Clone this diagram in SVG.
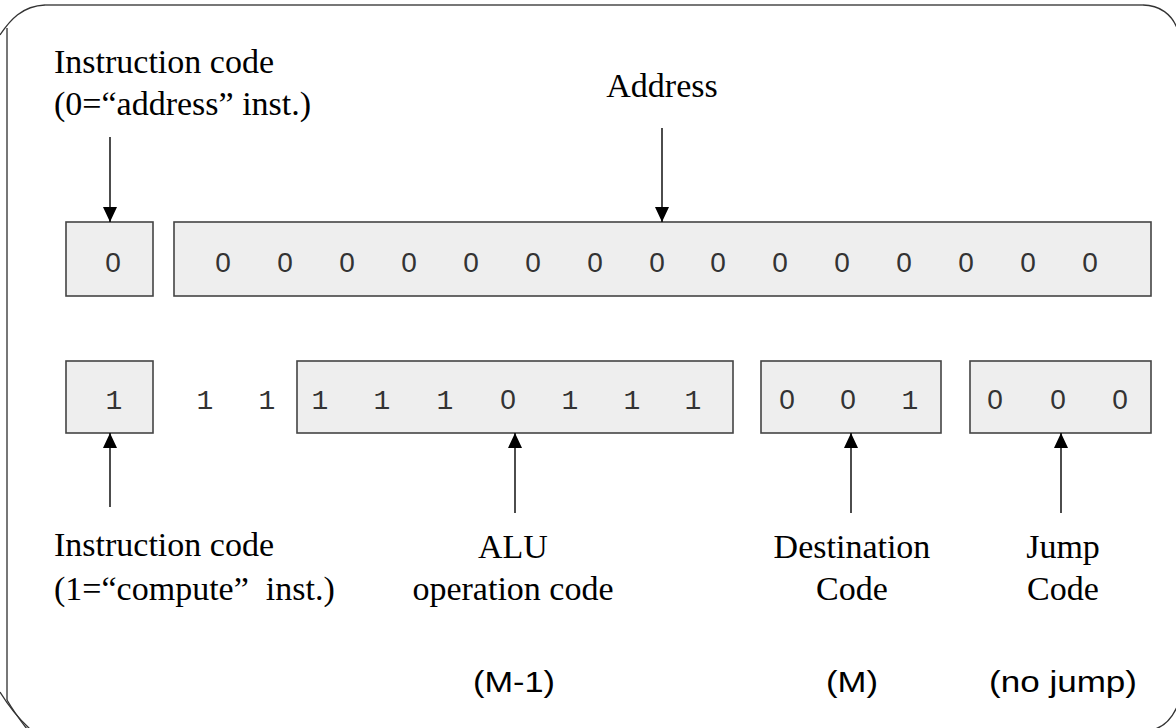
<svg xmlns="http://www.w3.org/2000/svg" width="1176" height="728" viewBox="0 0 1176 728">
<defs>
<marker id="ah" markerUnits="userSpaceOnUse" markerWidth="16" markerHeight="16" viewBox="0 0 16 16" refX="15" refY="8" orient="auto">
<path d="M0,1 L15,8 L0,15 Z" fill="#000"/>
</marker>
<style>
.frame{fill:none;stroke:#333;stroke-width:1.3}
.edge{fill:none;stroke:#777;stroke-width:2}
.box{fill:#eeeeee;stroke:#444;stroke-width:1.6}
.dig{font-family:"Liberation Sans",Arial,sans-serif;font-size:28px;fill:#333;text-anchor:middle}
.one{font-family:"Liberation Mono","Courier New",monospace;font-size:28px;fill:#333;text-anchor:middle}
.lbl{font-family:"Liberation Serif",serif;font-size:34px;fill:#000}
.mid{text-anchor:middle}
.sans{font-family:"Liberation Sans",Arial,sans-serif;font-size:30px;fill:#000;text-anchor:middle}
.arr{stroke:#000;stroke-width:1.4;fill:none;marker-end:url(#ah)}
</style>
</defs>
<g id="frame">
<path class="frame" d="M0,35 C10,20 22,6 45,5"/>
<path class="edge" d="M45,5 H1143"/>
<path class="frame" d="M1143,5 C1160,5 1172,15 1177,28"/>
<path class="edge" d="M7,28 V700"/>
<path class="frame" d="M0,692 C8,705 18,718 30,729"/>
<path class="frame" d="M7,700 C14,712 20,720 27,729"/>
<path class="frame" d="M1177,707 C1172,718 1165,726 1155,729"/>
</g>
<g id="lbl-instr-a">
<text class="lbl" x="54" y="73">Instruction code</text>
<text class="lbl" x="54" y="115">(0=“address” inst.)</text>
</g>
<g id="lbl-address">
<text class="lbl mid" x="662" y="97">Address</text>
</g>
<g id="box-a0">
<rect class="box" x="66" y="222" width="87" height="74"/>
<text class="dig" x="113" y="272">0</text>
</g>
<g id="box-address">
<rect class="box" x="174" y="222" width="977" height="74"/>
<text class="dig" x="223" y="272">0</text>
<text class="dig" x="285" y="272">0</text>
<text class="dig" x="347" y="272">0</text>
<text class="dig" x="409" y="272">0</text>
<text class="dig" x="471" y="272">0</text>
<text class="dig" x="533" y="272">0</text>
<text class="dig" x="595" y="272">0</text>
<text class="dig" x="657" y="272">0</text>
<text class="dig" x="718" y="272">0</text>
<text class="dig" x="780" y="272">0</text>
<text class="dig" x="842" y="272">0</text>
<text class="dig" x="904" y="272">0</text>
<text class="dig" x="966" y="272">0</text>
<text class="dig" x="1028" y="272">0</text>
<text class="dig" x="1090" y="272">0</text>
</g>
<g id="box-c1">
<rect class="box" x="66" y="361" width="87" height="72"/>
<text class="one" x="114" y="409">1</text>
</g>
<g id="free-bits">
<text class="one" x="205" y="409">1</text>
<text class="one" x="267" y="409">1</text>
</g>
<g id="box-alu">
<rect class="box" x="297" y="361" width="436" height="72"/>
<text class="one" x="320" y="409">1</text>
<text class="one" x="382" y="409">1</text>
<text class="one" x="445" y="409">1</text>
<text class="dig" x="508" y="409">0</text>
<text class="one" x="570" y="409">1</text>
<text class="one" x="632" y="409">1</text>
<text class="one" x="693" y="409">1</text>
</g>
<g id="box-dest">
<rect class="box" x="761" y="361" width="180" height="72"/>
<text class="dig" x="787" y="409">0</text>
<text class="dig" x="848" y="409">0</text>
<text class="one" x="910" y="409">1</text>
</g>
<g id="box-jump">
<rect class="box" x="970" y="361" width="181" height="72"/>
<text class="dig" x="995" y="409">0</text>
<text class="dig" x="1058" y="409">0</text>
<text class="dig" x="1120" y="409">0</text>
</g>
<g id="connectors">
<line class="arr" x1="110" y1="137" x2="110" y2="222"/>
<line class="arr" x1="662" y1="128" x2="662" y2="222"/>
<line class="arr" x1="110" y1="507" x2="110" y2="433"/>
<line class="arr" x1="515" y1="513" x2="515" y2="433"/>
<line class="arr" x1="851" y1="513" x2="851" y2="433"/>
<line class="arr" x1="1061" y1="513" x2="1061" y2="433"/>
</g>
<g id="lbl-instr-c">
<text class="lbl" x="54" y="556">Instruction code</text>
<text class="lbl" x="54" y="600" xml:space="preserve">(1=“compute”  inst.)</text>
</g>
<g id="lbl-alu">
<text class="lbl mid" x="513" y="558">ALU</text>
<text class="lbl mid" x="513" y="600">operation code</text>
<text class="sans" x="514" y="692" textLength="82" lengthAdjust="spacingAndGlyphs">(M-1)</text>
</g>
<g id="lbl-dest">
<text class="lbl mid" x="852" y="558">Destination</text>
<text class="lbl mid" x="852" y="600">Code</text>
<text class="sans" x="852" y="692" textLength="52" lengthAdjust="spacingAndGlyphs">(M)</text>
</g>
<g id="lbl-jump">
<text class="lbl mid" x="1063" y="558">Jump</text>
<text class="lbl mid" x="1063" y="600">Code</text>
<text class="sans" x="1063" y="692" textLength="148" lengthAdjust="spacingAndGlyphs">(no jump)</text>
</g>
</svg>
